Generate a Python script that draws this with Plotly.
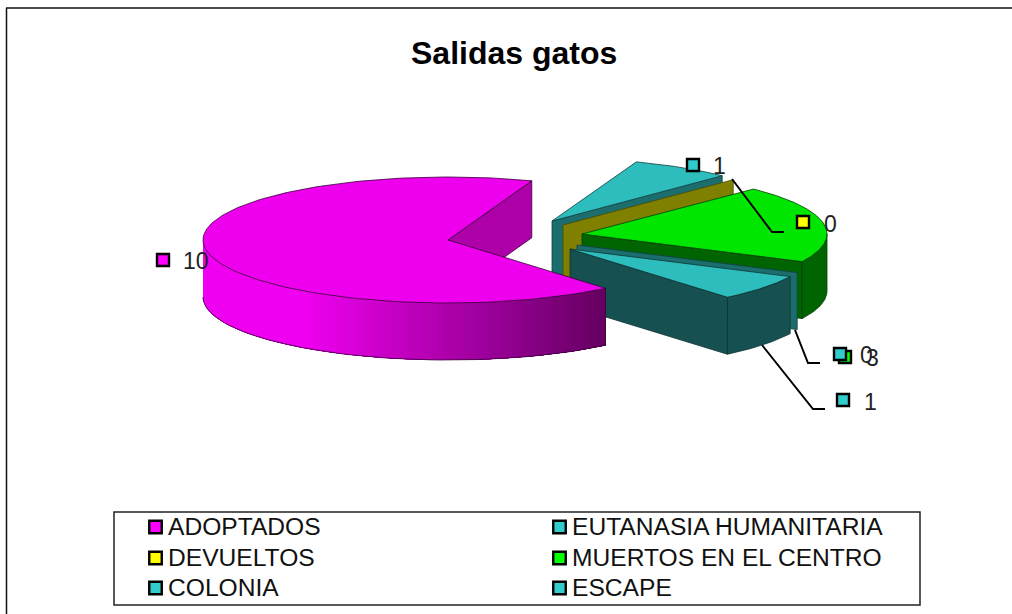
import numpy as np
import plotly.graph_objects as go

# ---- data ----
CATEGORIES = ["ADOPTADOS", "EUTANASIA HUMANITARIA", "DEVUELTOS",
              "MUERTOS EN EL CENTRO", "COLONIA", "ESCAPE"]
VALUES = [10, 1, 0, 3, 0, 1]
TITLE = "Salidas gatos"

# ---- styles / layout ----
LEGEND_COLORS = ["#FF00FF", "#33CCCC", "#FFFF00", "#00FF00", "#33CCCC", "#33CCCC"]
TOP_COLORS = ["#EE00EE", "#2EBDBD", "#808000", "#00E600", "#1C6E6E", "#2EBDBD"]
FACE_COLORS = ["#AE00A8", "#1C6E6E", "#808000", "#006400", "#1C6E6E", "#175050"]
RIM_COLORS = [None, "#1C6E6E", "#808000", "#006400", "#1C6E6E", "#175050"]
EDGE_COLORS = ["#3A003A", "#123F3F", "#4A4A00", "#004000", "#123F3F", "#0E3333"]
OFFSETS = [(0, 0), (104, -19), (115, -15), (134, -6), (129, 5), (122, 9)]
LABEL_MARK = [(163, 260), (693, 165), (803, 222), (845, 357), (840, 354), (843, 400)]
LABEL_TEXT = [(196, 261), (719, 166), (830, 224), (872, 358), (866, 355), (870, 402)]
LEADERS = [None, None,
           [(732, 179), (772, 232), (784, 232)],
           None,
           [(795, 330), (808, 363), (820, 363)],
           [(762, 345), (813, 409), (825, 409)]]
LEG_POS = [(155.5, 527), (559.5, 527), (155.5, 558), (559.5, 558), (155.5, 588), (559.5, 588)]

CX, CY, A, B, H = 448, 240, 245, 63, 57
START = -50.0
FONT = "Liberation Sans"

fig = go.Figure()


def arc(t0, t1, off, z=0, n=60):
    ts = np.radians(np.linspace(t0, t1, n))
    return CX + off[0] + A * np.cos(ts), CY + off[1] - B * np.sin(ts) + z


def poly(x, y, fill, line=None, w=0.8):
    fig.add_trace(go.Scatter(
        x=list(x), y=list(y), mode="lines", fill="toself", fillcolor=fill,
        line=dict(color=line or fill, width=w if line else 0),
        hoverinfo="skip", showlegend=False))


def face(t, off, fill, edge):
    rx, ry = arc(t, t, off, n=1)
    ax, ay = CX + off[0], CY + off[1]
    poly([ax, rx[0], rx[0], ax, ax], [ay, ry[0], ry[0] + H, ay + H, ay], fill, edge)


def rim(t0, t1, off, fill, edge):
    hi, lo = min(t0, 0), max(t1, -180)
    if hi <= lo:
        return
    x1, y1 = arc(hi, lo, off)
    x2, y2 = arc(lo, hi, off, z=H)
    poly(np.r_[x1, x2, x1[0]], np.r_[y1, y2, y1[0]], fill, edge)


def gradient_rim(t0, t1, off):
    steps = np.linspace(t1, t0, 90)
    for t in steps[:-1]:
        x1, y1 = arc(t, t0, off)
        x2, y2 = arc(t0, t, off, z=H)
        xp = CX + A * np.cos(np.radians(t))
        f = np.clip((xp - 300) / (605 - 300), 0, 1)
        r = int(240 + (100 - 240) * f)
        g = 0
        b = int(240 + (96 - 240) * f)
        poly(np.r_[x1, x2, x1[0]], np.r_[y1, y2, y1[0]], f"rgb({r},{g},{b})")
    x1, y1 = arc(t0, t1, off, z=H)
    fig.add_trace(go.Scatter(x=x1, y=y1, mode="lines", line=dict(color=EDGE_COLORS[0], width=0.8),
                             hoverinfo="skip", showlegend=False))
    x2, y2 = arc(t0, t0, off, n=1)
    fig.add_trace(go.Scatter(x=[x2[0], x2[0]], y=[y2[0], y2[0] + H], mode="lines",
                             line=dict(color=EDGE_COLORS[0], width=0.8),
                             hoverinfo="skip", showlegend=False))


# angles follow the values, clockwise from START
total = sum(VALUES)
spans = []
t = START
for v in VALUES:
    spans.append((t, t - 360.0 * v / total))
    t = spans[-1][1]
# after the large slice, bring the angles back into the -180..180 turn
spans = [spans[0]] + [(a + 360.0, b + 360.0) for a, b in spans[1:]]

# back to front: the large slice is painted last
for i in list(range(1, len(VALUES))) + [0]:
    t0, t1 = spans[i]
    off = OFFSETS[i]
    face(t1, off, FACE_COLORS[i], EDGE_COLORS[i])
    if i == 0:
        gradient_rim(t0, -180, off)
    elif VALUES[i] > 0:
        rim(t0, t1, off, RIM_COLORS[i], EDGE_COLORS[i])
    if VALUES[i] > 0:
        x, y = arc(t0, t1, off, n=160)
        ax, ay = CX + off[0], CY + off[1]
        poly(np.r_[ax, x, ax], np.r_[ay, y, ay], TOP_COLORS[i], EDGE_COLORS[i])

# leader lines
for pts in LEADERS:
    if pts:
        fig.add_trace(go.Scatter(x=[p[0] for p in pts], y=[p[1] for p in pts], mode="lines",
                                 line=dict(color="#000000", width=2),
                                 hoverinfo="skip", showlegend=False))

# data label keys and legend keys
fig.add_trace(go.Scatter(
    x=[p[0] for p in LABEL_MARK], y=[p[1] for p in LABEL_MARK], mode="markers",
    marker=dict(symbol="square", size=12, color=LEGEND_COLORS, line=dict(color="#000000", width=2.4)),
    hoverinfo="skip", showlegend=False))
fig.add_trace(go.Scatter(
    x=[p[0] for p in LEG_POS], y=[p[1] for p in LEG_POS], mode="markers",
    marker=dict(symbol="square", size=12.5, color=LEGEND_COLORS, line=dict(color="#000000", width=2.4)),
    hoverinfo="skip", showlegend=False))

ann = [dict(x=514, y=53, text=f"<b>{TITLE}</b>", showarrow=False, xanchor="center", yanchor="middle",
            font=dict(family=FONT, size=32, color="#000000"))]
for v, p in zip(VALUES, LABEL_TEXT):
    ann.append(dict(x=p[0], y=p[1], text=str(v), showarrow=False, xanchor="center", yanchor="middle",
                    font=dict(family=FONT, size=23, color="#222222")))
for c, p in zip(CATEGORIES, LEG_POS):
    ann.append(dict(x=p[0] + 10.5, y=p[1] - 1, text=c, showarrow=False, xanchor="left", yanchor="middle",
                    font=dict(family=FONT, size=24.6, color="#111111")))

shapes = [
    dict(type="rect", x0=114, x1=920, y0=512, y1=605, line=dict(color="#222222", width=1.5), layer="below"),
    dict(type="line", x0=6.5, x1=6.5, y0=8, y1=614, line=dict(color="#111111", width=1.5)),
    dict(type="line", x0=6, x1=1012, y0=8, y1=8, line=dict(color="#111111", width=1.5)),
]

fig.update_layout(
    width=1012, height=614, margin=dict(l=0, r=0, t=0, b=0),
    paper_bgcolor="#FFFFFF", plot_bgcolor="#FFFFFF",
    xaxis=dict(range=[0, 1012], visible=False, fixedrange=True),
    yaxis=dict(range=[614, 0], visible=False, fixedrange=True),
    annotations=ann, shapes=shapes, showlegend=False,
)
fig.write_html("out.html", post_script="document.body.style.margin='0';document.body.style.overflow='hidden';",
               config=dict(displayModeBar=False))
